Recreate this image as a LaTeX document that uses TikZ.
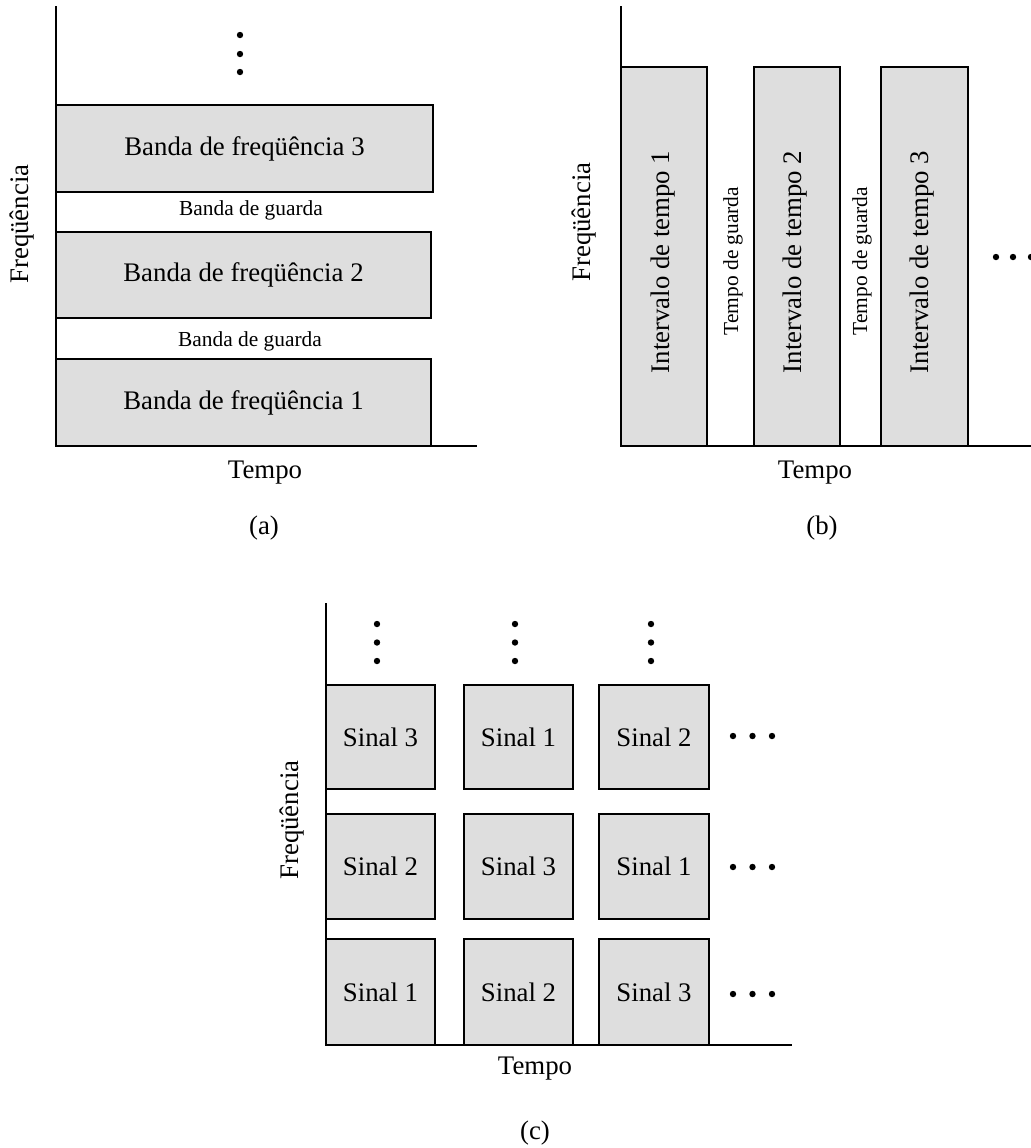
\documentclass[tikz,border=0pt]{standalone}
\usepackage{fontspec}
\setmainfont{Liberation Serif}
\begin{document}
\begin{tikzpicture}[x=0.5pt,y=-0.5pt,
  axis/.style={line width=1pt},
  bx/.style={draw=black,fill=black!13,line width=1pt,inner sep=0pt,font=\fontsize{13.4}{15}\selectfont},
  big/.style={inner sep=0pt,font=\fontsize{13.4}{15}\selectfont},
  small/.style={inner sep=0pt,font=\fontsize{10.7}{12}\selectfont},
  dot/.style={fill=black,circle,inner sep=0pt,minimum size=3.2pt}]
\useasboundingbox (0,0) rectangle (1031,1148);
% ---------- (a)
\coordinate (a0) at (56,446);
\coordinate (atop) at (56,6);
\coordinate (aright) at (477,446);
\node[bx,minimum width=188.5pt,minimum height=43.5pt] (ab3) at (244.5,148.5) {Banda de freqüência 3};
\node[bx,minimum width=187.5pt,minimum height=43pt] (ab2) at (243.5,275) {Banda de freqüência 2};
\node[bx,minimum width=187.5pt,minimum height=43.5pt] (ab1) at (243.5,402.5) {Banda de freqüência 1};
\draw[axis] (atop) -- (a0) -- (aright);
\node[small] (ag2) at (251,210) {Banda de guarda};
\node[small] (ag1) at (250,341) {Banda de guarda};
\node[dot] (ad1) at (240,35) {};
\node[dot] (ad2) at (240,54) {};
\node[dot] (ad3) at (240,72) {};
\node[big,rotate=90] (afreq) at (22,224) {Freqüência};
\node[big] (atempo) at (265,473) {Tempo};
\node[big] (alab) at (264,528) {(a)};
% ---------- (b)
\coordinate (b0) at (621,446);
\coordinate (btop) at (621,6);
\coordinate (bright) at (1031,446);
\node[bx,minimum width=43pt,minimum height=189.5pt] (bi1) at (664,256.5) {};
\node[bx,minimum width=43pt,minimum height=189.5pt] (bi2) at (797,256.5) {};
\node[bx,minimum width=43.5pt,minimum height=189.5pt] (bi3) at (924.5,256.5) {};
\node[big,rotate=90] (bt1) at (663,262) {Intervalo de tempo 1};
\node[big,rotate=90] (bt2) at (795,262) {Intervalo de tempo 2};
\node[big,rotate=90] (bt3) at (922,262) {Intervalo de tempo 3};
\draw[axis] (btop) -- (b0) -- (bright);
\node[small,rotate=90] (bg1) at (733,261) {Tempo de guarda};
\node[small,rotate=90] (bg2) at (862,261) {Tempo de guarda};
\node[dot] (bd1) at (996,257) {};
\node[dot] (bd2) at (1013,257) {};
\node[dot] (bd3) at (1031,257) {};
\node[big,rotate=90] (bfreq) at (584,222) {Freqüência};
\node[big] (btempo) at (815,473) {Tempo};
\node[big] (blab) at (822,528) {(b)};
% ---------- (c)
\coordinate (c0) at (326,1045);
\coordinate (ctop) at (326,603);
\coordinate (cright) at (792,1045);
\node[bx,minimum width=54.5pt,minimum height=52pt] (c31) at (380.5,737) {Sinal 3};
\node[bx,minimum width=54.5pt,minimum height=52pt] (c32) at (518.5,737) {Sinal 1};
\node[bx,minimum width=55pt,minimum height=52pt] (c33) at (654,737) {Sinal 2};
\node[bx,minimum width=54.5pt,minimum height=52.5pt] (c21) at (380.5,866.5) {Sinal 2};
\node[bx,minimum width=54.5pt,minimum height=52.5pt] (c22) at (518.5,866.5) {Sinal 3};
\node[bx,minimum width=55pt,minimum height=52.5pt] (c23) at (654,866.5) {Sinal 1};
\node[bx,minimum width=54.5pt,minimum height=53pt] (c11) at (380.5,992) {Sinal 1};
\node[bx,minimum width=54.5pt,minimum height=53pt] (c12) at (518.5,992) {Sinal 2};
\node[bx,minimum width=55pt,minimum height=53pt] (c13) at (654,992) {Sinal 3};
\draw[axis] (ctop) -- (c0) -- (cright);
\foreach \i/\x in {1/377,2/515,3/651}{
  \node[dot] (cv\i a) at (\x,624) {};
  \node[dot] (cv\i b) at (\x,642.5) {};
  \node[dot] (cv\i c) at (\x,661) {};
}
\foreach \j/\y in {1/994,2/867,3/736}{
  \node[dot] (ch\j a) at (733,\y) {};
  \node[dot] (ch\j b) at (752.5,\y) {};
  \node[dot] (ch\j c) at (772,\y) {};
}
\node[big,rotate=90] (cfreq) at (292,820) {Freqüência};
\node[big] (ctempo) at (535,1069) {Tempo};
\node[big] (clab) at (535,1133) {(c)};
\end{tikzpicture}
\end{document}
